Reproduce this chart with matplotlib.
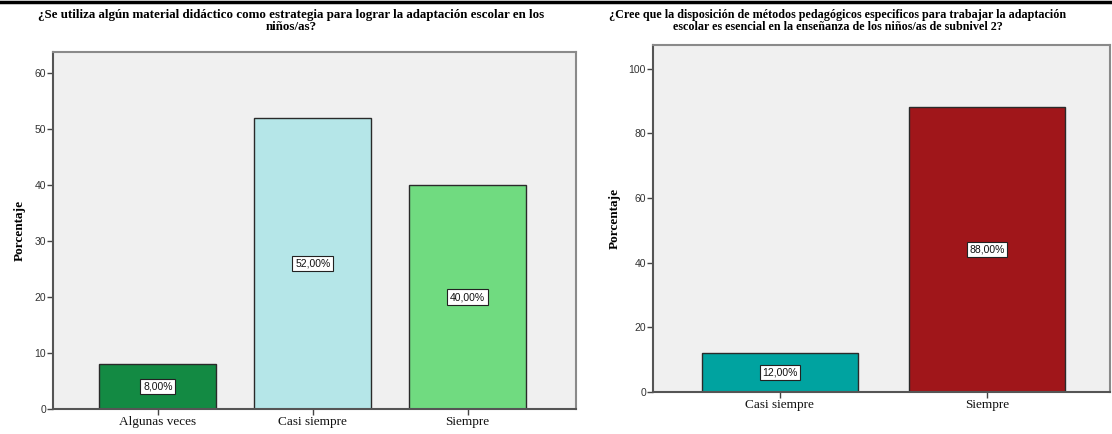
import matplotlib
matplotlib.use("Agg")
import matplotlib.pyplot as plt
from matplotlib.lines import Line2D

# ── datos ────────────────────────────────────────────────────────────────
left_title = ("¿Se utiliza algún material didáctico como estrategia para lograr la adaptación escolar en los\n"
              "niños/as?")
left_cats = ["Algunas veces", "Casi siempre", "Siempre"]
left_vals = [8.0, 52.0, 40.0]
left_colors = ["#138a43", "#b5e6e8", "#70db80"]
left_yticks = [0, 10, 20, 30, 40, 50, 60]

right_title = ("¿Cree que la disposición de métodos pedagógicos especificos para trabajar la adaptación\n"
               "escolar es esencial en la enseñanza de los niños/as de subnivel 2?")
right_cats = ["Casi siempre", "Siempre"]
right_vals = [12.0, 88.0]
right_colors = ["#00a3a0", "#a0161a"]
right_yticks = [0, 20, 40, 60, 80, 100]

SERIF = "Liberation Serif"
SANS = "Liberation Sans"
W, H = 1112, 434


def draw(ax, cats, vals, colors, yticks, ylim, xlim):
    ax.set_facecolor("#f0f0f0")
    xs = list(range(len(cats)))
    ax.bar(xs, vals, width=0.755, color=colors, edgecolor="#2a2a2a",
           linewidth=1.0, zorder=2)
    for x, v in zip(xs, vals):
        ax.text(x, v / 2, f"{v:.2f}%".replace(".", ","), ha="center", va="center",
                fontsize=7.5, family=SANS, color="#111",
                bbox=dict(boxstyle="square,pad=0.25", facecolor="white",
                          edgecolor="#222", linewidth=0.8), zorder=3)
    ax.set_xlim(*xlim)
    ax.set_ylim(0, ylim)
    ax.set_xticks(xs)
    ax.set_xticklabels(cats, fontsize=9.5, family=SERIF, color="#111")
    ax.set_yticks(yticks)
    ax.set_yticklabels([str(t) for t in yticks], fontsize=7.5, family=SANS, color="#333")
    ax.tick_params(axis="both", length=4, width=1.0, color="#444", pad=1)
    ax.set_ylabel("Porcentaje", fontsize=9.5, family=SERIF, fontweight="bold",
                  labelpad=6)
    for s in ["top", "right"]:
        ax.spines[s].set_color("#8a8a8a")
        ax.spines[s].set_linewidth(1.5)
    for s in ["left", "bottom"]:
        ax.spines[s].set_color("#555555")
        ax.spines[s].set_linewidth(1.5)


fig = plt.figure(figsize=(W / 100, H / 100), dpi=100)

ax1 = fig.add_axes([53 / W, 1 - 409 / H, 523 / W, 357 / H])
draw(ax1, left_cats, left_vals, left_colors, left_yticks, 63.75, (-0.677, 2.70))

ax2 = fig.add_axes([653 / W, 1 - 392 / H, 457 / W, 347 / H])
draw(ax2, right_cats, right_vals, right_colors, right_yticks, 107.3, (-0.613, 1.594))

fig.text(291 / W, 1 - 9 / H, left_title, ha="center", va="top", fontsize=9.4,
         family=SERIF, fontweight="bold", linespacing=1.0)
fig.text(838 / W, 1 - 9 / H, right_title, ha="center", va="top", fontsize=8.7,
         family=SERIF, fontweight="bold", linespacing=1.05)

# línea negra superior (borde del documento)
fig.add_artist(Line2D([0, 1], [1 - 1.5 / H, 1 - 1.5 / H], color="black",
                      linewidth=2.5, transform=fig.transFigure))

fig.savefig("out.png", dpi=100)
